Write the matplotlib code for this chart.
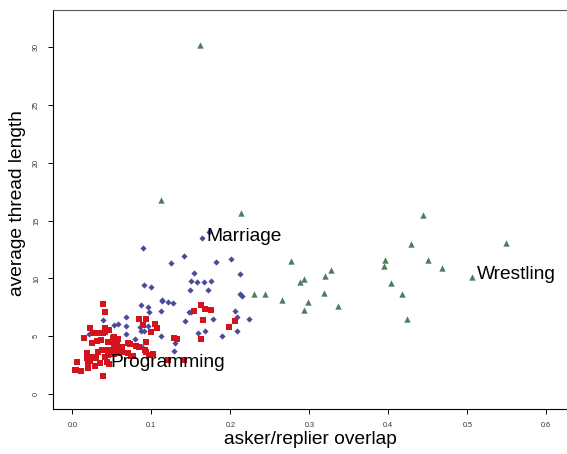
import matplotlib
matplotlib.use("Agg")
import matplotlib.pyplot as plt

plt.rcParams["font.family"] = ["Liberation Sans", "DejaVu Sans"]

# Wrestling (green triangles)
wrestling_x = [0.1616, 0.1123, 0.2135, 0.4440, 0.4287, 0.5490, 0.2768, 0.3962,
               0.4506, 0.3949, 0.4680, 0.3278, 0.3195, 0.2933, 0.2882, 0.5063,
               0.4034, 0.2300, 0.2435, 0.4173, 0.3190, 0.2654, 0.2984, 0.3363,
               0.2929, 0.4237]
wrestling_y = [30.17, 16.80, 15.62, 15.48, 12.95, 13.03, 11.47, 11.58,
               11.56, 11.04, 10.92, 10.69, 10.20, 9.92, 9.71, 10.14,
               9.60, 8.62, 8.65, 8.62, 8.76, 8.13, 7.95, 7.58,
               7.26, 6.54]

# Marriage (blue diamonds)
marriage_x = [0.0899, 0.1249, 0.0914, 0.0992, 0.1139, 0.1642, 0.1730, 0.1410,
              0.1819, 0.2013, 0.1541, 0.2123, 0.1505, 0.1582, 0.1673, 0.1756,
              0.1484, 0.1724, 0.2125, 0.2144, 0.0873, 0.0961, 0.1135, 0.1208,
              0.1281, 0.0975, 0.1127, 0.0682, 0.0395, 0.0524, 0.0578, 0.0680,
              0.0863, 0.0962, 0.1480, 0.1503, 0.1429, 0.1785, 0.2066, 0.2089,
              0.2241, 0.2089, 0.0218, 0.0682, 0.0876, 0.0908, 0.0984, 0.0800,
              0.1127, 0.1597, 0.1682, 0.1901, 0.1296, 0.1290, 0.0878]
marriage_y = [12.60, 11.30, 9.40, 9.22, 8.14, 13.46, 14.01, 11.96,
              11.41, 11.67, 10.50, 10.35, 9.77, 9.68, 9.68, 9.81,
              8.97, 8.99, 8.62, 8.47, 7.67, 7.50, 8.04, 7.93,
              7.87, 7.09, 7.22, 6.68, 6.40, 5.98, 6.10, 5.88,
              5.84, 5.90, 7.07, 7.12, 6.35, 6.51, 7.18, 6.67,
              6.51, 5.42, 5.23, 5.19, 5.42, 5.45, 5.43, 4.77,
              5.01, 5.33, 5.47, 5.04, 4.44, 3.70, 4.05]

# Programming (red squares)
programming_x = [0.0385, 0.0420, 0.0220, 0.0148, 0.0266, 0.0309, 0.0347, 0.0385,
                 0.0418, 0.0418, 0.0468, 0.0515, 0.0532, 0.0575, 0.0246, 0.0316,
                 0.0359, 0.0448, 0.0486, 0.0532, 0.0570, 0.0322, 0.0372, 0.0430,
                 0.0477, 0.0532, 0.0582, 0.0633, 0.0701, 0.0734, 0.0186, 0.0182,
                 0.0220, 0.0300, 0.0418, 0.0456, 0.0524, 0.0570, 0.0633, 0.0701,
                 0.0747, 0.0439, 0.0461, 0.0063, 0.0203, 0.0195, 0.0051, 0.0106,
                 0.0030, 0.0287, 0.0385, 0.0806, 0.0851, 0.0844, 0.0937, 0.0901,
                 0.1047, 0.1076, 0.0992, 0.1291, 0.1332, 0.1635, 0.0939, 0.0933,
                 0.1019, 0.0977, 0.0772, 0.1633, 0.1682, 0.1762, 0.1541, 0.1661,
                 0.1984, 0.2059, 0.1215, 0.1408, 0.0920, 0.0249, 0.0351]
programming_y = [7.78, 7.06, 5.71, 4.84, 5.25, 5.33, 5.33, 5.33,
                 5.36, 5.71, 5.51, 4.87, 4.95, 4.75, 4.44, 4.56,
                 4.67, 4.47, 4.47, 4.38, 4.47, 3.66, 3.80, 3.86,
                 3.86, 3.86, 3.95, 4.09, 4.44, 4.35, 3.52, 3.14,
                 2.85, 3.09, 3.22, 3.37, 3.43, 3.52, 3.61, 3.52,
                 3.29, 2.77, 2.65, 2.77, 2.57, 2.27, 2.05, 1.99,
                 2.10, 2.42, 1.60, 4.18, 4.09, 6.46, 6.46, 5.97,
                 6.03, 5.71, 5.36, 4.82, 4.78, 4.74, 4.54, 3.67,
                 3.48, 3.35, 3.31, 7.74, 7.39, 7.31, 7.16, 6.42,
                 5.82, 6.34, 2.94, 2.98, 3.80, 3.22, 2.68]

# group labels: (text, x, y)
group_labels = [("Marriage", 0.1692, 13.66),
                ("Wrestling", 0.5123, 10.37),
                ("Programming", 0.0478, 2.77)]

x_ticks = [0.0, 0.1, 0.2, 0.3, 0.4, 0.5, 0.6]
y_ticks = [0, 5, 10, 15, 20, 25, 30]

fig = plt.figure(figsize=(5.67, 4.54), dpi=100)
W, H = 567.0, 454.0
left, right, top, bottom = 53.3, 570.0, 10.0, 409.0
ax = fig.add_axes([left / W, 1 - bottom / H, (right - left) / W, (bottom - top) / H])

ax.scatter(wrestling_x, wrestling_y, marker="^", s=21, color="#4e7d5b", linewidths=0, zorder=3)
ax.scatter(marriage_x, marriage_y, marker="D", s=10, color="#4a4a9c", linewidths=0, zorder=3)
ax.scatter(programming_x, programming_y, marker="s", s=13, color="#d4141c", linewidths=0, zorder=4)

for txt, x, y in group_labels:
    ax.text(x, y, txt, fontsize=13.8, ha="left", va="center", color="black", zorder=5)

ax.set_xlim(-0.024, (right - 72.3) / 790.0)
ax.set_ylim(-1.28, 33.2)
ax.set_xticks(x_ticks)
ax.set_xticklabels(["%.1f" % v for v in x_ticks])
ax.set_yticks(y_ticks)
ax.set_yticklabels([str(v) for v in y_ticks], rotation=90, va="center")
ax.tick_params(axis="both", direction="out", length=3.5, width=0.7, labelsize=5.2,
               labelcolor="#333333", pad=6)

for sp in ax.spines.values():
    sp.set_linewidth(0.8)
    sp.set_color("black")
ax.spines["top"].set_color("#555555")

fig.text(310 / W, 1 - 440 / H, "asker/replier overlap", fontsize=13.8, ha="center", va="center")
fig.text(18 / W, 1 - 203 / H, "average thread length", fontsize=13.8, ha="center", va="center",
         rotation=90)

fig.savefig("out.png", dpi=100)
